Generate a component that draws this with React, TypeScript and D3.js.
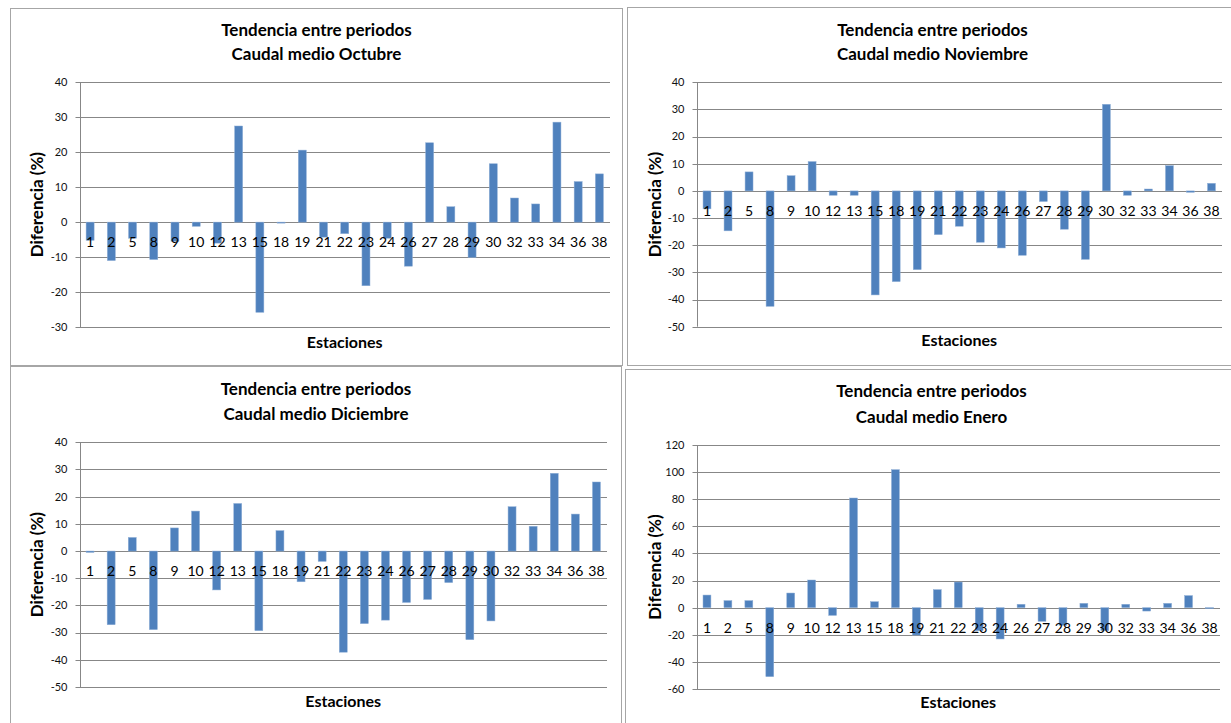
import React from "react";
import * as d3 from "d3";

// Station identifiers shared by the four monthly charts
const estaciones = ["1", "2", "5", "8", "9", "10", "12", "13", "15", "18", "19", "21", "22", "23", "24", "26", "27", "28", "29", "30", "32", "33", "34", "36", "38"];

// Difference (%) between periods, per station
const octubre = [-5.2, -11.0, -4.6, -10.7, -5.5, -1.2, -6.0, 27.5, -25.8, -0.2, 20.6, -4.3, -3.3, -18.2, -4.6, -12.6, 22.7, 4.4, -10.1, 16.7, 6.9, 5.2, 28.6, 11.6, 13.8];
const noviembre = [-6.6, -14.7, 7.0, -42.5, 5.6, 10.8, -1.6, -1.6, -38.3, -33.4, -29.0, -16.1, -13.0, -18.9, -21.0, -23.7, -3.9, -14.1, -25.2, 31.9, -1.6, 0.7, 9.3, -0.5, 2.8];
const diciembre = [-0.5, -27.1, 5.0, -28.9, 8.5, 14.7, -14.3, 17.5, -29.3, 7.5, -11.3, -3.8, -37.2, -26.7, -25.4, -18.9, -17.8, -11.6, -32.6, -25.7, 16.3, 9.1, 28.6, 13.6, 25.4];
const enero = [9.3, 5.2, 5.2, -50.9, 10.8, 20.4, -5.7, 80.9, 4.4, 101.8, -20.2, 13.3, 18.9, -17.0, -23.1, 2.5, -10.1, -13.0, 3.2, -17.0, 2.5, -2.5, 3.2, 8.9, -0.4];

// Value-axis ticks
const ticksOct = [40, 30, 20, 10, 0, -10, -20, -30];
const ticksNov = [40, 30, 20, 10, 0, -10, -20, -30, -40, -50];
const ticksDic = [40, 30, 20, 10, 0, -10, -20, -30, -40, -50];
const ticksEne = [120, 100, 80, 60, 40, 20, 0, -20, -40, -60];

// Chart titles
const tituloComun = "Tendencia entre periodos";
const tituloEnero = "Tendencia  entre periodos";
const mesOct = "Caudal medio Octubre";
const mesNov = "Caudal medio Noviembre";
const mesDic = "Caudal medio Diciembre";
const mesEne = "Caudal medio Enero";
const ejeX = "Estaciones";
const ejeY = "Diferencia (%)";

const FONT = "Lato, 'Open Sans', sans-serif";
const BAR = "#4F81BD";
const GRID = "#878787";

type PanelProps = {
  frame: { x: number; y: number; w: number; h: number };
  plot: { l: number; r: number; t: number; b: number };
  ticks: number[];
  values: number[];
  title: [string, string];
  titleY: [number, number];
  yTitleX: number;
  xTitleY: number;
};

function Panel({ frame, plot, ticks, values, title, titleY, yTitleX, xTitleY }: PanelProps) {
  const y = d3
    .scaleLinear()
    .domain([d3.min(ticks) as number, d3.max(ticks) as number])
    .range([plot.b, plot.t]);
  const x = d3.scaleBand<string>().domain(estaciones).range([plot.l, plot.r]).padding(0);
  const bw = x.bandwidth() / 2.65;
  const y0 = y(0);
  const titleCx = frame.x + frame.w / 2;
  const plotCx = (plot.l + plot.r) / 2;
  const plotCy = (plot.t + plot.b) / 2;

  return (
    <g>
      <rect x={frame.x} y={frame.y} width={frame.w} height={frame.h} fill="#fff" stroke="#a6a6a6" strokeWidth={1} />
      {ticks.map((t) => (
        <g key={t}>
          <line x1={plot.l - 4} x2={plot.r} y1={Math.round(y(t)) + 0.5} y2={Math.round(y(t)) + 0.5} stroke={GRID} strokeWidth={1} />
          <text x={plot.l - 12} y={y(t)} dy="0.35em" textAnchor="end" fontSize={11} fill="#111" fontFamily={FONT}>
            {t}
          </text>
        </g>
      ))}
      <line x1={Math.round(plot.l) + 0.5} x2={Math.round(plot.l) + 0.5} y1={plot.t} y2={plot.b} stroke={GRID} strokeWidth={1} />
      {estaciones.map((e, i) => {
        const v = values[i];
        const cx = (x(e) as number) + x.bandwidth() / 2;
        return (
          <rect
            key={e}
            x={cx - bw / 2}
            y={Math.min(y(v), y0)}
            width={bw}
            height={Math.max(Math.abs(y(v) - y0), 1)}
            fill={BAR}
            stroke="#8eaed6"
            strokeWidth={0.5}
          />
        );
      })}
      {estaciones.map((e) => (
        <text
          key={e}
          x={(x(e) as number) + x.bandwidth() / 2}
          y={y0 + 20}
          dy="0.35em"
          textAnchor="middle"
          fontSize={14}
          fill="#000"
          fontFamily={FONT}
        >
          {e}
        </text>
      ))}
      <text x={titleCx} y={titleY[0]} textAnchor="middle" fontSize={17} fontWeight="bold" fontFamily={FONT} fill="#000">
        {title[0]}
      </text>
      <text x={titleCx} y={titleY[1]} textAnchor="middle" fontSize={17} fontWeight="bold" fontFamily={FONT} fill="#000">
        {title[1]}
      </text>
      <text x={plotCx} y={xTitleY} dy="0.35em" textAnchor="middle" fontSize={16} fontWeight="bold" fontFamily={FONT} fill="#000">
        {ejeX}
      </text>
      <text
        transform={`translate(${yTitleX},${plotCy}) rotate(-90)`}
        dy="0.35em"
        textAnchor="middle"
        fontSize={17}
        fontWeight="bold"
        fontFamily={FONT}
        fill="#000"
      >
        {ejeY}
      </text>
    </g>
  );
}

export default function App() {
  return (
    <svg width={1231} height={723} style={{ position: "absolute", left: 0, top: 0, background: "#fff" }}>
      <rect x={0} y={0} width={1231} height={723} fill="#fff" />
      <Panel
        frame={{ x: 10.5, y: 8.5, w: 612, h: 357 }}
        plot={{ l: 79.5, r: 610, t: 82.3, b: 327 }}
        ticks={ticksOct}
        values={octubre}
        title={[tituloComun, mesOct]}
        titleY={[36, 60]}
        yTitleX={37}
        xTitleY={342}
      />
      <Panel
        frame={{ x: 627.5, y: 7.5, w: 610, h: 358 }}
        plot={{ l: 696.5, r: 1222, t: 82.3, b: 326.7 }}
        ticks={ticksNov}
        values={noviembre}
        title={[tituloComun, mesNov]}
        titleY={[36, 60]}
        yTitleX={655}
        xTitleY={340}
      />
      <Panel
        frame={{ x: 10.5, y: 366.5, w: 611, h: 362 }}
        plot={{ l: 79.5, r: 607, t: 442.3, b: 687 }}
        ticks={ticksDic}
        values={diciembre}
        title={[tituloComun, mesDic]}
        titleY={[395, 420]}
        yTitleX={37}
        xTitleY={701.7}
      />
      <Panel
        frame={{ x: 625.5, y: 369.5, w: 612, h: 360 }}
        plot={{ l: 696.5, r: 1220, t: 445, b: 689 }}
        ticks={ticksEne}
        values={enero}
        title={[tituloEnero, mesEne]}
        titleY={[397, 423]}
        yTitleX={655}
        xTitleY={702.7}
      />
    </svg>
  );
}
